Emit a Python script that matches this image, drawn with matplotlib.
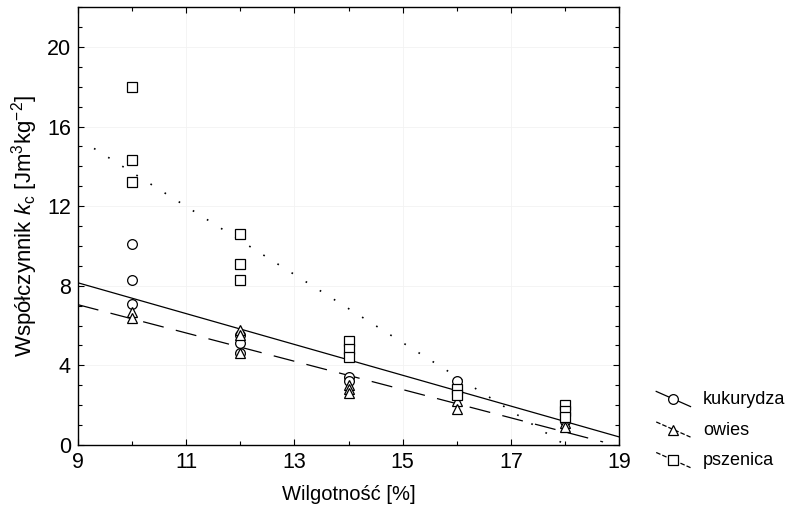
import numpy as np
import matplotlib
matplotlib.use('Agg')
import matplotlib.pyplot as plt
from matplotlib.lines import Line2D
from matplotlib.legend_handler import HandlerLine2D
from matplotlib.ticker import MultipleLocator

plt.rcParams['font.family'] = ['Liberation Sans', 'DejaVu Sans']
plt.rcParams['mathtext.fontset'] = 'custom'
plt.rcParams['mathtext.rm'] = 'Liberation Sans'
plt.rcParams['mathtext.it'] = 'Liberation Sans:italic'

# ── Data ─────────────────────────────────────────────────
kuk_x = [10, 10, 10, 12, 12, 12, 14, 14, 16, 18]
kuk_y = [10.1, 8.3, 7.1, 5.5, 5.1, 4.6, 3.4, 3.2, 3.2, 1.2]

owi_x = [10, 10, 12, 12, 12, 14, 14, 14, 16, 16, 18, 18]
owi_y = [6.7, 6.4, 5.8, 5.5, 4.6, 3.0, 2.8, 2.6, 2.2, 1.8, 1.1, 0.9]

psz_x = [10, 10, 10, 12, 12, 12, 14, 14, 14, 16, 16, 18, 18, 18]
psz_y = [18.0, 14.3, 13.2, 10.6, 9.1, 8.3, 5.2, 4.8, 4.4, 2.8, 2.5, 2.0, 1.7, 1.4]

# regression lines (end points)
kuk_fit_x = [9.0, 19.0]
kuk_fit_y = [8.15, 0.4]
owi_fit_x = [9.0, 18.7]
owi_fit_y = [7.05, 0.15]
psz_fit_x = [9.3, 18.0]
psz_fit_y = [14.9, 0.0]

x_ticks = [9, 11, 13, 15, 17, 19]
y_ticks = [0, 4, 8, 12, 16, 20]
labels = ['kukurydza', 'owies', 'pszenica']


class DiagonalHandler(HandlerLine2D):
    """Legend handle: sloped line with the marker in the middle."""
    def create_artists(self, legend, orig_handle, xdescent, ydescent,
                       width, height, fontsize, trans):
        ls = orig_handle.get_linestyle()
        line = Line2D([-xdescent, width - xdescent],
                      [height * 1.0 - ydescent, -height * 0.2 - ydescent],
                      color='black', lw=0.9, linestyle=ls)
        mark = Line2D([width / 2 - xdescent], [height * 0.4 - ydescent],
                      marker=orig_handle.get_marker(), ms=7,
                      mfc='white', mec='black', mew=0.9, linestyle='none')
        for a in (line, mark):
            a.set_transform(trans)
        return [line, mark]


fig = plt.figure(figsize=(7.94, 5.12), dpi=100)
ax = fig.add_axes([0.098, 0.131, 0.682, 0.855])

mk = dict(ms=7, mfc='white', mec='black', mew=0.9, linestyle='none', zorder=4)
ax.plot(kuk_x, kuk_y, marker='o', **mk)
ax.plot(owi_x, owi_y, marker='^', **mk)
ax.plot(psz_x, psz_y, marker='s', **mk)

ax.plot(kuk_fit_x, kuk_fit_y, color='black', lw=0.9, zorder=3)
ax.plot(owi_fit_x, owi_fit_y, color='black', lw=0.9, dashes=(17, 10), zorder=3)
ax.plot(psz_fit_x, psz_fit_y, color='black', lw=1.2, dashes=(1, 9), zorder=3)

ax.set_xlim(9, 19)
ax.set_ylim(0, 22)
ax.set_xticks(x_ticks)
ax.set_yticks(y_ticks)
ax.xaxis.set_minor_locator(MultipleLocator(1))
ax.yaxis.set_minor_locator(MultipleLocator(1))
ax.tick_params(which='both', direction='in', top=True, right=True,
               labelsize=15.5, width=0.8, color='black')
ax.tick_params(which='major', length=4, pad=5)
ax.tick_params(which='minor', length=3)
ax.grid(which='major', color='#f2f2f2', lw=0.6)
for s in ax.spines.values():
    s.set_linewidth(1.0)

ax.set_xlabel('Wilgotność [%]', fontsize=14.5, labelpad=9)
ax.set_ylabel(r'Współczynnik $\mathit{k}_\mathrm{c}$ [Jm$^3$kg$^{-2}$]',
              fontsize=16, labelpad=5)

handles = [Line2D([], [], marker='o', linestyle='-'),
           Line2D([], [], marker='^', linestyle=(0, (5, 3))),
           Line2D([], [], marker='s', linestyle=(0, (1, 3)))]
fig.legend(handles, labels, loc='lower left', bbox_to_anchor=(0.806, 0.052),
           frameon=False, fontsize=13, handlelength=1.9, handletextpad=0.7,
           labelspacing=0.75, handler_map={Line2D: DiagonalHandler()})

fig.savefig('out.png', dpi=100, facecolor='white')
